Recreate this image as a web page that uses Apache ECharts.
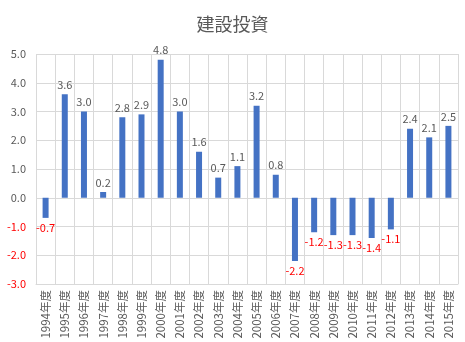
<!DOCTYPE html>
<html><head><meta charset="utf-8">
<script src="https://cdn.jsdelivr.net/npm/echarts@6/dist/echarts.min.js"></script>
<style>html,body{margin:0;padding:0;background:#fff}#c{width:465px;height:342px}</style>
</head><body><div id="c"></div>
<script>
const categories = ['1994年度','1995年度','1996年度','1997年度','1998年度','1999年度','2000年度','2001年度','2002年度','2003年度','2004年度','2005年度','2006年度','2007年度','2008年度','2009年度','2010年度','2011年度','2012年度','2013年度','2014年度','2015年度'];
const values = [-0.7,3.6,3.0,0.2,2.8,2.9,4.8,3.0,1.6,0.7,1.1,3.2,0.8,-2.2,-1.2,-1.3,-1.3,-1.4,-1.1,2.4,2.1,2.5];
const title = '建設投資';
const font = '"Noto Sans CJK JP", "Noto Sans", sans-serif';
const chart = echarts.init(document.getElementById('c'));
chart.setOption({
  animation: false,
  title: { text: title, left: 'center', top: 10, textStyle: { fontFamily: font, fontSize: 18, fontWeight: 'normal', color: '#595959' } },
  grid: { left: 36, right: 7, top: 54, bottom: 58 },
  xAxis: {
    type: 'category', data: categories, position: 'bottom',
    axisLine: { show: true, onZero: false, lineStyle: { color: '#D9D9D9' } },
    axisTick: { show: false },
    splitLine: { show: true, lineStyle: { color: '#D9D9D9' } },
    axisLabel: { rotate: 90, interval: 0, color: '#595959', fontFamily: font, fontSize: 11.5, margin: 6 }
  },
  yAxis: {
    type: 'value', min: -3, max: 5, interval: 1,
    axisLine: { show: false }, axisTick: { show: false },
    splitLine: { lineStyle: { color: '#D9D9D9' } },
    axisLabel: { fontFamily: font, fontSize: 11, margin: 10,
      formatter: v => v.toFixed(1),
      color: v => (v < 0 ? '#FF0000' : '#595959') }
  },
  series: [{
    type: 'bar', barWidth: 6,
    data: values.map(v => ({
      value: v,
      label: { show: true, position: v < 0 ? 'bottom' : 'top', color: v < 0 ? '#FF0000' : '#595959',
        formatter: p => p.value.toFixed(1), fontFamily: font, fontSize: 11, distance: 4 }
    })),
    itemStyle: { color: '#4472C4' }
  }]
});
</script></body></html>
